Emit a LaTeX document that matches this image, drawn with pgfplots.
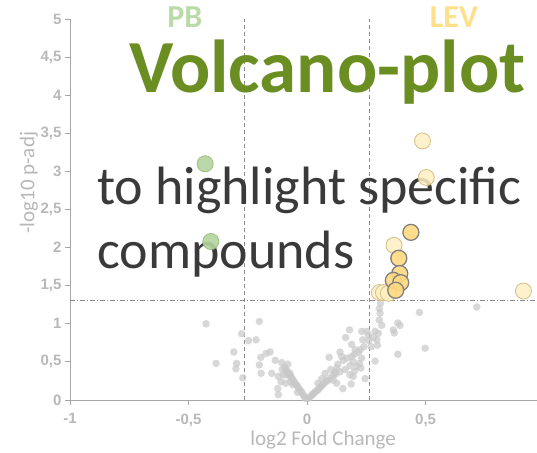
\documentclass[border=0pt]{standalone}
\usepackage{fontspec}
\setmainfont{Liberation Sans}
\newfontfamily\carlito{Carlito}
\usepackage{pgfplots}
\pgfplotsset{compat=1.18}
\definecolor{axisgray}{HTML}{A6A6A6}
\definecolor{ticklab}{HTML}{B8B8B8}
\definecolor{ptgray}{HTML}{C8C8C8}
\definecolor{titlegreen}{HTML}{6B8E23}
\definecolor{pbgreen}{HTML}{B4D59F}
\definecolor{pbedge}{HTML}{9DC287}
\definecolor{levlight}{HTML}{FFEFC2}
\definecolor{levedge}{HTML}{D5C38E}
\definecolor{levdark}{HTML}{FFD97F}
\definecolor{darkedge}{HTML}{808080}
\definecolor{textdark}{HTML}{3A3A3A}
\definecolor{labyellow}{HTML}{FFE08A}
\definecolor{labgreen}{HTML}{BADBA8}
\definecolor{refline}{HTML}{8C8C8C}

\begin{document}
\begin{tikzpicture}
\begin{axis}[
  name=main,
  scale only axis, width=467pt, height=381pt,
  xmin=-1, xmax=0.97, ymin=0, ymax=5,
  axis x line=bottom, axis y line=left,
  axis line style={axisgray, line width=0.9pt, -},
  xtick={-1,-0.5,0,0.5}, xticklabels={-1,{-0,5},0,{0,5}},
  ytick={0,0.5,1,1.5,2,2.5,3,3.5,4,4.5,5},
  yticklabels={0,{0,5},1,{1,5},2,{2,5},3,{3,5},4,{4,5},5},
  tick align=outside, major tick length=5pt,
  tick style={axisgray, line width=0.9pt},
  ticklabel style={font=\bfseries\fontsize{15}{18}\selectfont, text=ticklab},
  xticklabel style={yshift=-5pt},
  xlabel={log2 Fold Change}, ylabel={-log10 p-adj},
  label style={font=\carlito\fontsize{21}{24}\selectfont, text=ticklab},
  xlabel style={at={(axis description cs:0.542,-0.105)}, anchor=center},
  ylabel style={at={(axis description cs:-0.088,0.57)}, anchor=center},
  clip=false,
]
% threshold lines
\addplot[refline, line width=0.8pt, dash pattern=on 4pt off 3pt] coordinates {(-0.263,0) (-0.263,5)};
\addplot[refline, line width=0.8pt, dash pattern=on 4pt off 3pt] coordinates {(0.263,0) (0.263,5)};
\addplot[refline, line width=0.8pt, dash pattern=on 5pt off 2pt on 1pt off 2pt] coordinates {(-1,1.301) (0.97,1.301)};

% non-significant compounds
\addplot[only marks, mark=*, mark size=3.8pt, color=ptgray, mark options={draw opacity=0, fill=ptgray, fill opacity=0.7}] coordinates {
(-0.426,1.00) (-0.201,1.03) (-0.276,0.87) (-0.247,0.78) (-0.215,0.79) (-0.309,0.63)
(-0.384,0.48) (-0.297,0.48) (-0.300,0.41) (-0.271,0.29) (-0.201,0.46) (-0.194,0.35)
(-0.195,0.56) (-0.173,0.61) (-0.156,0.63) (-0.134,0.52) (-0.107,0.49) (-0.081,0.47)
(-0.149,0.35) (-0.121,0.31) (-0.072,0.35) (-0.124,0.15) (-0.121,0.07)
(-0.095,0.43) (-0.090,0.40) (-0.085,0.38) (-0.080,0.36) (-0.075,0.33) (-0.070,0.31)
(-0.065,0.29) (-0.060,0.27) (-0.055,0.24) (-0.050,0.22) (-0.045,0.20) (-0.040,0.18)
(-0.035,0.15) (-0.030,0.13) (-0.025,0.11) (-0.020,0.09) (-0.015,0.06) (-0.010,0.04)
(-0.005,0.02) (-0.088,0.33) (-0.070,0.24) (-0.105,0.40) (-0.100,0.33) (-0.060,0.20)
(-0.040,0.10) (-0.110,0.24) (-0.090,0.22)
(0.005,0.02) (0.010,0.03) (0.015,0.05) (0.020,0.06) (0.025,0.08) (0.030,0.09)
(0.035,0.11) (0.040,0.12) (0.045,0.13) (0.050,0.15) (0.055,0.17) (0.060,0.18)
(0.065,0.20) (0.070,0.21) (0.080,0.24) (0.090,0.26) (0.100,0.29) (0.110,0.32) (0.120,0.34)
(0.046,0.22) (0.062,0.28) (0.076,0.35) (0.083,0.26)
(0.305,1.20) (0.308,1.14) (0.305,1.05) (0.315,0.98) (0.474,1.15) (0.383,1.01)
(0.392,0.98) (0.364,0.92) (0.368,0.88) (0.287,0.90) (0.301,0.875) (0.252,0.90)
(0.259,0.85) (0.294,0.79) (0.297,0.72) (0.231,0.90) (0.235,0.79) (0.179,0.92)
(0.163,0.82) (0.188,0.73) (0.498,0.68) (0.383,0.60) (0.287,0.51) (0.217,0.63)
(0.224,0.66) (0.203,0.66) (0.139,0.63) (0.146,0.57) (0.153,0.52) (0.093,0.56)
(0.188,0.57) (0.195,0.50) (0.181,0.45) (0.210,0.44) (0.227,0.42) (0.221,0.48)
(0.125,0.42) (0.118,0.37) (0.139,0.37) (0.181,0.33) (0.195,0.31) (0.245,0.28)
(0.111,0.26) (0.125,0.22) (0.151,0.15) (0.186,0.21) (0.716,1.22) (0.310,1.27)
(0.100,0.40) (0.130,0.47) (0.160,0.40) (0.170,0.55) (0.200,0.60) (0.240,0.70)
(0.260,0.78) (0.280,0.82) (0.270,0.70) (0.200,0.38) (0.230,0.55)
};

% PB-up compounds
\addplot[only marks, mark=*, mark size=8pt, color=pbedge, mark options={draw=pbedge, line width=0.9pt, fill=pbgreen, fill opacity=0.9}] coordinates {
(-0.430,3.10) (-0.406,2.08)
};
% LEV-up compounds (light)
\addplot[only marks, mark=*, mark size=8pt, color=levedge, mark options={draw=levedge, line width=0.9pt, fill=levlight, fill opacity=0.85}] coordinates {
(0.487,3.40) (0.503,2.92) (0.367,2.03) (0.305,1.41) (0.322,1.41) (0.343,1.40) (0.913,1.43)
};
% LEV-up compounds (highlighted)
\addplot[only marks, mark=*, mark size=8pt, color=darkedge, mark options={draw=darkedge, line width=1.3pt, fill=levdark, fill opacity=0.9}] coordinates {
(0.438,2.20) (0.387,1.86) (0.391,1.66) (0.364,1.57) (0.395,1.54) (0.374,1.44)
};

% group labels
\node[font=\carlito\bfseries\fontsize{32}{36}\selectfont, text=labgreen, anchor=base, inner sep=0pt] at (axis description cs:0.246,0.977) {PB};
\node[font=\carlito\bfseries\fontsize{32}{36}\selectfont, text=labyellow, anchor=base, inner sep=0pt] at (axis description cs:0.822,0.977) {LEV};

% title
\node[font=\carlito\bfseries\fontsize{75}{80}\selectfont, text=titlegreen, anchor=base, inner sep=0pt] at (axis description cs:0.551,0.806) {Volcano-plot};

\node[font=\carlito\fontsize{54}{60}\selectfont, text=textdark, anchor=base west, inner sep=0pt] at (axis description cs:0.058,0.512) {to highlight specific};
\node[font=\carlito\fontsize{54}{60}\selectfont, text=textdark, anchor=base west, inner sep=0pt] at (axis description cs:0.058,0.344) {compounds};
\end{axis}
\pgfresetboundingbox
\path[use as bounding box] ([shift={(-70pt,-52pt)}]main.south west) rectangle ([shift={(0pt,19pt)}]main.north east);
\end{tikzpicture}
\end{document}
